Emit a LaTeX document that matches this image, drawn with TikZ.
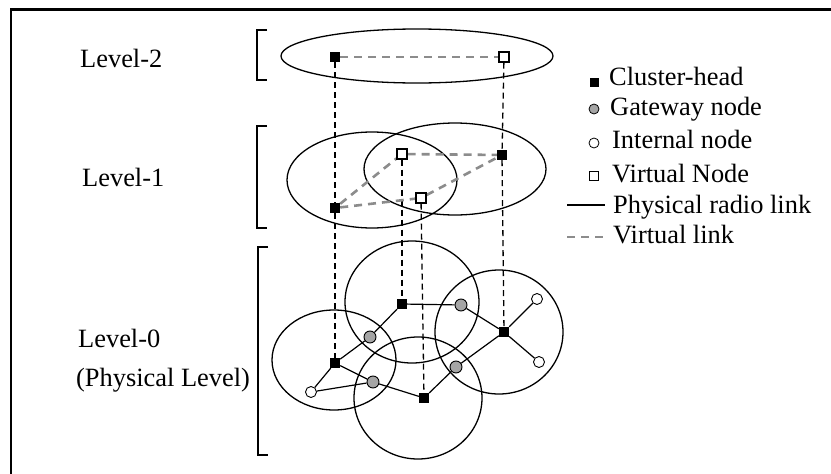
\documentclass[tikz,border=0pt]{standalone}
\usepackage{fontspec}
\setmainfont{Liberation Serif}
\usetikzlibrary{backgrounds}
\definecolor{vgray}{RGB}{140,140,140}
\definecolor{gwfill}{RGB}{165,165,165}
\begin{document}
\begin{tikzpicture}[x=1pt,y=-1pt,
  chnode/.style={rectangle,fill=black,minimum size=10pt,inner sep=0pt},
  vnnode/.style={rectangle,draw=black,fill=white,line width=1.1pt,minimum size=10pt,inner sep=0pt},
  gwnode/.style={circle,draw=black,fill=gwfill,line width=0.9pt,minimum size=12pt,inner sep=0pt},
  innode/.style={circle,draw=black,fill=white,line width=0.9pt,minimum size=11pt,inner sep=0pt},
  lgch/.style={rectangle,fill=black,minimum size=9pt,inner sep=0pt},
  lgvn/.style={rectangle,draw=black,fill=white,line width=0.9pt,minimum size=9pt,inner sep=0pt},
  lggw/.style={circle,draw=black,fill=gwfill,line width=0.8pt,minimum size=10pt,inner sep=0pt},
  lgin/.style={circle,draw=black,fill=white,line width=0.8pt,minimum size=10pt,inner sep=0pt},
  plink/.style={line width=1.2pt},
  vlink/.style={draw=vgray,line width=2.6pt,dash pattern=on 8pt off 6pt},
  vert/.style={line width=1.3pt,dash pattern=on 6pt off 4pt},
  radiorange/.style={line width=1.3pt},
  lbl/.style={font=\fontsize{26.4}{30}\selectfont,inner sep=0pt,anchor=base west},
  bracket/.style={line width=1.5pt}
]
\useasboundingbox (0,0) rectangle (831,474);
% frame (top and left edges visible)
\draw[line width=2.2pt] (11,474) -- (11,9.5) -- (831,9.5);

% brackets
\draw[bracket] (267,30) -- (257,30) -- (257,80) -- (267,80);
\draw[bracket] (267,126) -- (257,126) -- (257,228) -- (267,228);
\draw[bracket] (268,247) -- (258,247) -- (258,455) -- (268,455);

% level labels
\node[lbl] (t2) at (80,67) {Level-2};
\node[lbl] (t1) at (82,186) {Level-1};
\node[lbl] (t0) at (78,347) {Level-0};
\node[lbl] (t0b) at (76,386) {(Physical Level)};

% level 2 nodes
\node[chnode] (a2) at (335,57) {};
\node[vnnode] (b2) at (504,57) {};
% level 1 nodes
\node[chnode] (a1) at (335,208) {};
\node[chnode] (d1) at (502,155) {};
\node[vnnode] (b1) at (402,154) {};
\node[vnnode] (c1) at (421,198) {};
% level 0 nodes
\node[chnode] (ct) at (402,304) {};
\node[chnode] (cl) at (335,363) {};
\node[chnode] (cb) at (424,398) {};
\node[chnode] (cr) at (504,332) {};
\node[gwnode] (g1) at (461,305) {};
\node[gwnode] (g2) at (370,337) {};
\node[gwnode] (g3) at (373,382) {};
\node[gwnode] (g4) at (456,367) {};
\node[innode] (i1) at (311,392) {};
\node[innode] (i2) at (537,299) {};
\node[innode] (i3) at (539,362) {};

\begin{scope}[on background layer]
  \fill[white] (0,0) rectangle (831,474);
  % level 2 range
  \draw[radiorange] (417,56) ellipse [x radius=136, y radius=27];
  % level 1 ranges
  \draw[radiorange] (372,180) ellipse [x radius=85, y radius=48];
  \draw[radiorange] (455,169) ellipse [x radius=91, y radius=46];
  % level 0 ranges
  \draw[radiorange] (412,302) ellipse [x radius=67, y radius=61];
  \draw[radiorange] (334,360) ellipse [x radius=62, y radius=50];
  \draw[radiorange] (418,398) ellipse [x radius=64, y radius=61];
  \draw[radiorange] (499,332) ellipse [x radius=64, y radius=62];
  % vertical mapping lines
  \draw[vert] (a2) -- (a1);
  \draw[vert] (a1) -- (cl);
  \draw[vert] (b2) -- (d1);
  \draw[vert] (d1) -- (cr);
  \draw[vert] (b1) -- (ct);
  \draw[vert] (c1) -- (cb);
  % virtual links
  \draw[vlink] (a2) -- (b2);
  \draw[vlink] (a1) -- (b1);
  \draw[vlink] (b1) -- (d1);
  \draw[vlink] (a1) -- (c1);
  \draw[vlink] (c1) -- (d1);
  % physical links
  \draw[plink] (ct) -- (g1);
  \draw[plink] (ct) -- (g2);
  \draw[plink] (g2) -- (cl);
  \draw[plink] (cl) -- (g3);
  \draw[plink] (cl) -- (i1);
  \draw[plink] (i1) -- (g3);
  \draw[plink] (g3) -- (cb);
  \draw[plink] (cb) -- (g4);
  \draw[plink] (g4) -- (cr);
  \draw[plink] (g1) -- (cr);
  \draw[plink] (cr) -- (i2);
  \draw[plink] (cr) -- (i3);
\end{scope}

% legend
\node[lgch] (k1) at (594,82) {};
\node[lbl] (l1) at (609,85) {Cluster-head};
\node[lggw] (k2) at (594,109) {};
\node[lbl] (l2) at (610,115) {Gateway node};
\node[lgin] (k3) at (594,143) {};
\node[lbl] (l3) at (612,148) {Internal node};
\node[lgvn] (k4) at (594,176) {};
\node[lbl] (l4) at (612,182) {Virtual Node};
\coordinate (k5a) at (567,205);
\coordinate (k5b) at (605,205);
\draw[plink] (k5a) -- (k5b);
\node[lbl] (l5) at (613,213) {Physical radio link};
\coordinate (k6a) at (567,237);
\coordinate (k6b) at (605,237);
\draw[draw=vgray,line width=2.4pt,dash pattern=on 8pt off 6pt] (k6a) -- (k6b);
\node[lbl] (l6) at (613,243) {Virtual link};
\end{tikzpicture}
\end{document}
